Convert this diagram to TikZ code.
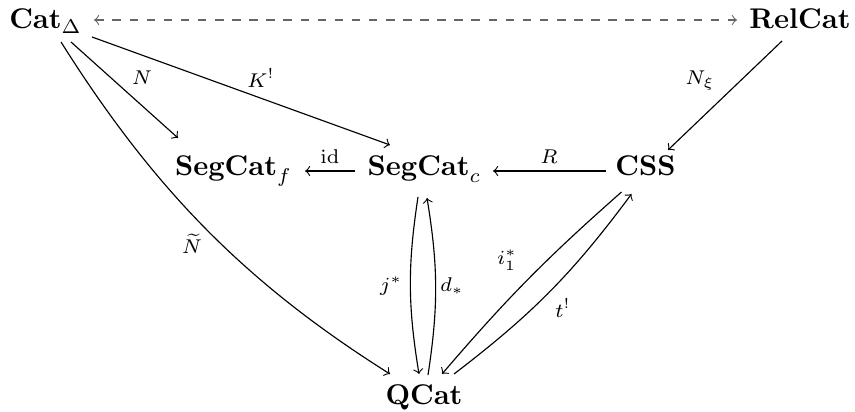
\documentclass[tikz,border=0pt]{standalone}
\usepackage{amsmath,amssymb}
\begin{document}
\begin{tikzpicture}[x=0.3509pt,y=-0.3509pt,
  obj/.style={inner sep=0pt, anchor=base},
  lbl/.style={inner sep=0pt, font=\scriptsize},
  arr/.style={->, >=to, line width=0.4pt},
  dasharr/.style={<->, >=to, dashed, draw=black!60, line width=0.4pt}]
\useasboundingbox (0,0) rectangle (855,412);
% objects
\node[obj] (cat)  at (45.5,29)  {$\mathbf{Cat}_\Delta$};
\node[obj] (rel)  at (800,29)   {$\mathbf{RelCat}$};
\node[obj] (segf) at (233.5,176) {$\mathbf{SegCat}_f$};
\node[obj] (segc) at (424.5,176) {$\mathbf{SegCat}_c$};
\node[obj] (css)  at (645.5,176) {$\mathbf{CSS}$};
\node[obj] (qcat) at (424,404) {$\mathbf{QCat}$};
% connectors
\draw[dasharr] ([shift={(48.5,-9)}]cat.base) -- ([shift={(-63,-9)}]rel.base);
\draw[arr] ([shift={(25.5,13)}]cat.base) -- ([shift={(-55.5,-38)}]segf.base);
\draw[arr] ([shift={(46.5,8)}]cat.base) -- ([shift={(-34.5,-31)}]segc.base);
\draw[arr] ([shift={(15.5,13)}]cat.base) .. controls +(92,146) and +(-146,-92) .. ([shift={(-34,-30)}]qcat.base);
\draw[arr] ([shift={(-69.5,-5)}]segc.base) -- ([shift={(71.5,-5)}]segf.base);
\draw[arr] ([shift={(-39.5,-5)}]css.base) -- ([shift={(68.5,-5)}]segc.base);
\draw[arr] ([shift={(-18,12)}]rel.base) -- ([shift={(22.5,-26)}]css.base);
\draw[arr] ([shift={(-6.5,21)}]segc.base) to[bend right=9] ([shift={(-5,-30)}]qcat.base);
\draw[arr] ([shift={(4,-29)}]qcat.base) to[bend right=9] ([shift={(2.5,22)}]segc.base);
\draw[arr] ([shift={(-24,16)}]css.base) to[bend right=4] ([shift={(18,-30)}]qcat.base);
\draw[arr] ([shift={(30,-30)}]qcat.base) to[bend right=8] ([shift={(-14,18)}]css.base);
% labels
\node[lbl] (lN)   at (142,78)  {$N$};
\node[lbl] (lK)   at (261,78)  {$K^!$};
\node[lbl] (lNt)  at (192,244) {$\widetilde{N}$};
\node[lbl] (lid)  at (330,157) {$\mathrm{id}$};
\node[lbl] (lR)   at (549,157) {$R$};
\node[lbl] (lNx)  at (700,81)  {$N_\xi$};
\node[lbl] (lj)   at (391,286) {$j^*$};
\node[lbl] (ld)   at (452,286) {$d_*$};
\node[lbl] (li)   at (507,260) {$i_1^*$};
\node[lbl] (lt)   at (563,308) {$t^!$};
\end{tikzpicture}
\end{document}
